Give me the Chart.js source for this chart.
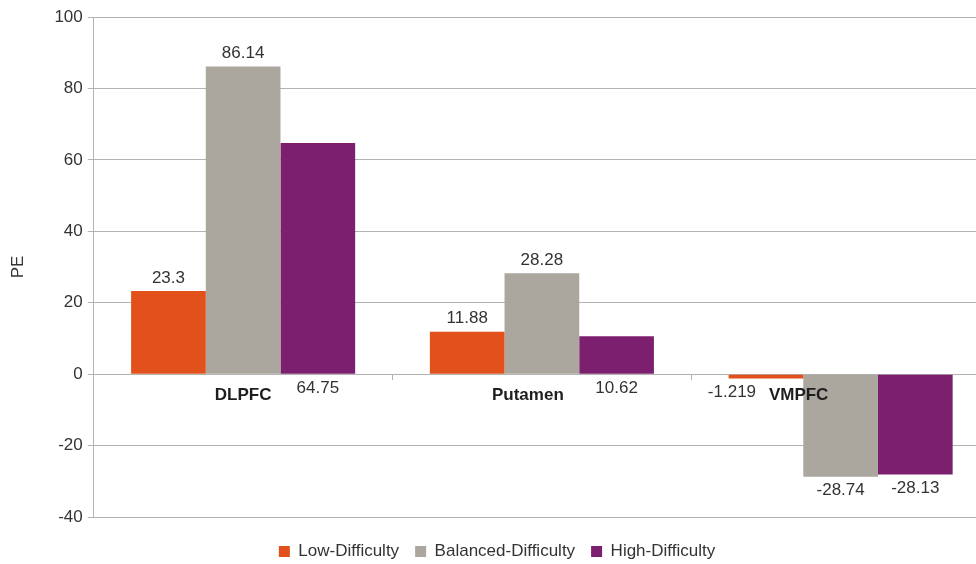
<!DOCTYPE html>
<html>
<head>
<meta charset="utf-8">
<script src="https://cdn.jsdelivr.net/npm/chart.js@4.4.1/dist/chart.umd.min.js"></script>
<style>
  html, body { margin: 0; padding: 0; background: #fff; overflow: hidden; }
  #wrap { width: 990px; height: 570px; }
</style>
</head>
<body>
<div id="wrap"><canvas id="peChart"></canvas></div>
<script>
const regions = ["DLPFC", "Putamen", "VMPFC"];
const lowDifficulty = [23.3, 11.88, -1.219];
const balancedDifficulty = [86.14, 28.28, -28.74];
const highDifficulty = [64.75, 10.62, -28.13];
const yTicks = [-40, -20, 0, 20, 40, 60, 80, 100];

const FONT = "'Liberation Sans', Arial, sans-serif";
const textColor = "#333333";
const gridColor = "#b3b3b3";

// the office export pushed some labels sideways to dodge each other (px)
const categoryNudge = [0, -14, -42];
const lowLabelNudge = [0, 0, -34];

const valueLabels = {
    id: "valueLabels",
    afterDatasetsDraw(chart) {
        const ctx = chart.ctx;
        const zeroY = chart.scales.y.getPixelForValue(0);
        const xScale = chart.scales.x;
        ctx.save();
        ctx.textAlign = "center";
        ctx.textBaseline = "middle";

        // category names sit just under the zero line
        ctx.font = "bold 17px " + FONT;
        ctx.fillStyle = "#1e1e1e";
        chart.data.labels.forEach((name, i) => {
            ctx.fillText(name, xScale.getPixelForValue(i) + categoryNudge[i], zeroY + 21);
        });

        ctx.font = "17px " + FONT;
        ctx.fillStyle = textColor;
        chart.data.datasets.forEach((ds, i) => {
            chart.getDatasetMeta(i).data.forEach((bar, j) => {
                const v = ds.data[j];
                let y;
                if (v < 0) {
                    y = bar.y + 14;
                } else if (ds.labelAtBase) {
                    y = zeroY + 14;
                } else {
                    y = bar.y - 13;
                }
                const dx = i === 0 ? lowLabelNudge[j] : 0;
                ctx.fillText(String(v), bar.x + dx, y);
            });
        });
        ctx.restore();
    }
};

new Chart(document.getElementById("peChart"), {
    type: "bar",
    data: {
        labels: regions,
        datasets: [
            { label: "Low-Difficulty", data: lowDifficulty, backgroundColor: "#e2511b" },
            { label: "Balanced-Difficulty", data: balancedDifficulty, backgroundColor: "#aba79f" },
            { label: "High-Difficulty", data: highDifficulty, backgroundColor: "#7b1f6e", labelAtBase: true }
        ]
    },
    options: {
        responsive: true,
        maintainAspectRatio: false,
        animation: false,
        categoryPercentage: 0.75,
        barPercentage: 1,
        layout: { padding: { top: 17, left: 4, right: 0, bottom: 0 } },
        plugins: {
            legend: {
                position: "bottom",
                // empty title only to push the legend row down a bit
                title: { display: true, text: "", font: { size: 8 }, padding: { top: 0.2, bottom: 0.2 } },
                labels: {
                    color: textColor,
                    font: { family: FONT, size: 17 },
                    boxWidth: 11,
                    boxHeight: 11,
                    padding: 16
                }
            },
            tooltip: { enabled: false }
        },
        scales: {
            x: {
                position: { y: 0 },
                grid: { drawOnChartArea: false, tickLength: 5, color: gridColor },
                border: { color: gridColor },
                ticks: { display: false }
            },
            y: {
                min: -40,
                max: 100,
                afterBuildTicks(axis) {
                    axis.ticks = yTicks.map(v => ({ value: v }));
                },
                grid: { color: gridColor, tickLength: 6 },
                border: { color: gridColor },
                ticks: {
                    color: textColor,
                    font: { family: FONT, size: 17 },
                    padding: 5
                },
                title: {
                    display: true,
                    text: "PE",
                    color: textColor,
                    font: { family: FONT, size: 17 },
                    padding: { top: 4, bottom: 21 }
                }
            }
        }
    },
    plugins: [valueLabels]
});
</script>
</body>
</html>
